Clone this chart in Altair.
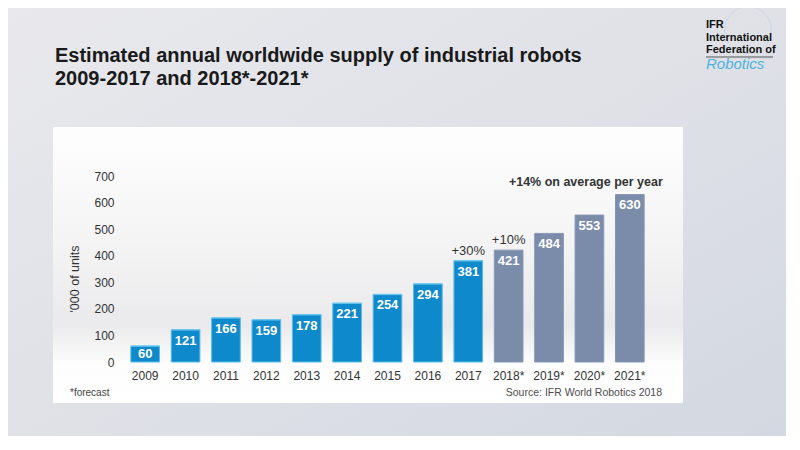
import altair as alt
import pandas as pd

# ---- data ----
years = ["2009", "2010", "2011", "2012", "2013", "2014", "2015", "2016", "2017",
         "2018*", "2019*", "2020*", "2021*"]
units = [60, 121, 166, 159, 178, 221, 254, 294, 381, 421, 484, 553, 630]
kinds = ["actual"] * 9 + ["forecast"] * 4
y_ticks = [0, 100, 200, 300, 400, 500, 600, 700]

growth_years = ["2017", "2018*"]
growth_vals = [381, 421]
growth_labels = ["+30%", "+10%"]

avg_year = ["2021*"]
avg_val = [630]
avg_label = ["+14% on average per year"]

title_lines = ["Estimated annual worldwide supply of industrial robots",
               "2009-2017 and 2018*-2021*"]

df = pd.DataFrame({"year": years, "units": units, "kind": kinds})
gdf = pd.DataFrame({"year": growth_years, "units": growth_vals, "label": growth_labels})
adf = pd.DataFrame({"year": avg_year, "units": avg_val, "label": avg_label})

FONT = "Liberation Sans"
W, H = 525, 186

x_axis = alt.Axis(labelAngle=0, ticks=False, domain=False, labelPadding=8, zindex=1,
                  labelFont=FONT, labelFontSize=12, labelColor="#333333")
y_axis = alt.Axis(values=y_ticks, grid=False, ticks=False, domain=False, labelPadding=11,
                  zindex=1, labelOverlap=False, labelFlush=False,
                  labelFont=FONT, labelFontSize=12, labelColor="#333333")
x_scale = alt.Scale(paddingInner=0.29, paddingOuter=0.145)
y_scale = alt.Scale(domain=[0, 700])


def X():
    return alt.X("year:N", sort=years, title=None, scale=x_scale, axis=x_axis)


def Y(field="units"):
    return alt.Y(f"{field}:Q", title=None, scale=y_scale, axis=y_axis)


def txt(text, x, y, **kw):
    return alt.Chart(pd.DataFrame({"t": [text]})).mark_text(font=FONT, **kw).encode(
        x=alt.value(x), y=alt.value(y), text="t:N")


# page background gradient
bg = alt.Chart(pd.DataFrame({"a": [0]})).mark_rect(
    fill=alt.Gradient(gradient="linear", x1=0, y1=0, x2=1, y2=1,
                      stops=[alt.GradientStop(color="#e9e9ed", offset=0),
                             alt.GradientStop(color="#dfe1e7", offset=0.5),
                             alt.GradientStop(color="#d2d7e1", offset=1)])
).encode(x=alt.value(-125), x2=alt.value(675), y=alt.value(-176), y2=alt.value(274))

# white panel
panel = alt.Chart(pd.DataFrame({"a": [0]})).mark_rect(
    fill=alt.Gradient(gradient="linear", x1=0, y1=0, x2=0, y2=1,
                      stops=[alt.GradientStop(color="#fefefe", offset=0),
                             alt.GradientStop(color="#f3f3f4", offset=0.45),
                             alt.GradientStop(color="#eaeaec", offset=0.72),
                             alt.GradientStop(color="#fdfdfd", offset=0.86),
                             alt.GradientStop(color="#ffffff", offset=1)])
).encode(x=alt.value(-72), x2=alt.value(558), y=alt.value(-49), y2=alt.value(227))

# faint globe behind the logo
globe = alt.Chart(pd.DataFrame({"a": [0]})).mark_point(
    shape="circle", size=2200, filled=False, stroke="#c9d5e6", strokeWidth=1, opacity=0.8
).encode(x=alt.value(623), y=alt.value(-146))

base = alt.Chart(df)

bars = base.mark_bar(strokeWidth=1).encode(
    x=X(), y=Y(),
    color=alt.Color("kind:N", legend=None,
                    scale=alt.Scale(domain=["actual", "forecast"],
                                    range=["#0e89cc", "#7b8cab"])),
    stroke=alt.Stroke("kind:N", legend=None,
                      scale=alt.Scale(domain=["actual", "forecast"],
                                      range=["#58bdea", "#8797b4"])))

tops = base.transform_filter(alt.datum.kind == "actual").mark_tick(
    color="#6cc8f0", thickness=1.5, size=29).encode(x=X(), y=Y())

vals = base.transform_calculate(
    ly="datum.units > 90 ? datum.units - 41 : datum.units / 2"
).mark_text(font=FONT, fontSize=13, fontWeight="bold", color="white",
            baseline="middle").encode(x=X(), y=Y("ly"), text="units:Q")

growth = alt.Chart(gdf).mark_text(font=FONT, fontSize=13, color="#333333",
                                  baseline="bottom", dy=-3).encode(
    x=X(), y=Y(), text="label:N")

avg = alt.Chart(adf).mark_text(font=FONT, fontSize=12.5, fontWeight="bold",
                               color="#333333", align="right", baseline="bottom",
                               dx=33, dy=-6).encode(
    x=X(), y=Y(), text="label:N")

texts = [
    txt(title_lines[0], -70, -114, fontSize=20, fontWeight="bold", color="#1a1a1a",
        align="left", baseline="alphabetic"),
    txt(title_lines[1], -70, -91, fontSize=20, fontWeight="bold", color="#1a1a1a",
        align="left", baseline="alphabetic"),
    txt("'000 of units", -50, 103, fontSize=12.5, color="#333333", angle=270,
        align="center", baseline="middle"),
    txt("*forecast", -55, 220, fontSize=10, color="#444444", align="left",
        baseline="alphabetic"),
    txt("Source: IFR World Robotics 2018", 537, 220, fontSize=10.5, color="#4d4d4d",
        align="right", baseline="alphabetic"),
    txt("IFR", 581, -148, fontSize=11, fontWeight="bold", color="#111111",
        align="left", baseline="alphabetic"),
    txt("International", 581, -135, fontSize=11, fontWeight="bold", color="#111111",
        align="left", baseline="alphabetic"),
    txt("Federation of", 581, -123, fontSize=11, fontWeight="bold", color="#111111",
        align="left", baseline="alphabetic"),
    alt.Chart(pd.DataFrame({"a": [0]})).mark_rule(color="#333333", strokeWidth=0.8).encode(
        x=alt.value(581), x2=alt.value(648), y=alt.value(-119)),
    txt("Robotics", 581, -107, fontSize=15, fontStyle="italic", color="#4fb3de",
        align="left", baseline="alphabetic"),
]

chart = alt.layer(bg, panel, globe, bars, tops, vals, growth, avg, *texts).properties(
    width=W, height=H,
    padding={"left": 117, "top": 168, "right": 136, "bottom": 74},
    autosize=alt.AutoSizeParams(type="none"),
    background="#e3e5ea",
).configure_view(stroke=None).configure_axisY(labelOverlap=False)

chart.save("out.html", embed_options={"renderer": "svg", "actions": False})
